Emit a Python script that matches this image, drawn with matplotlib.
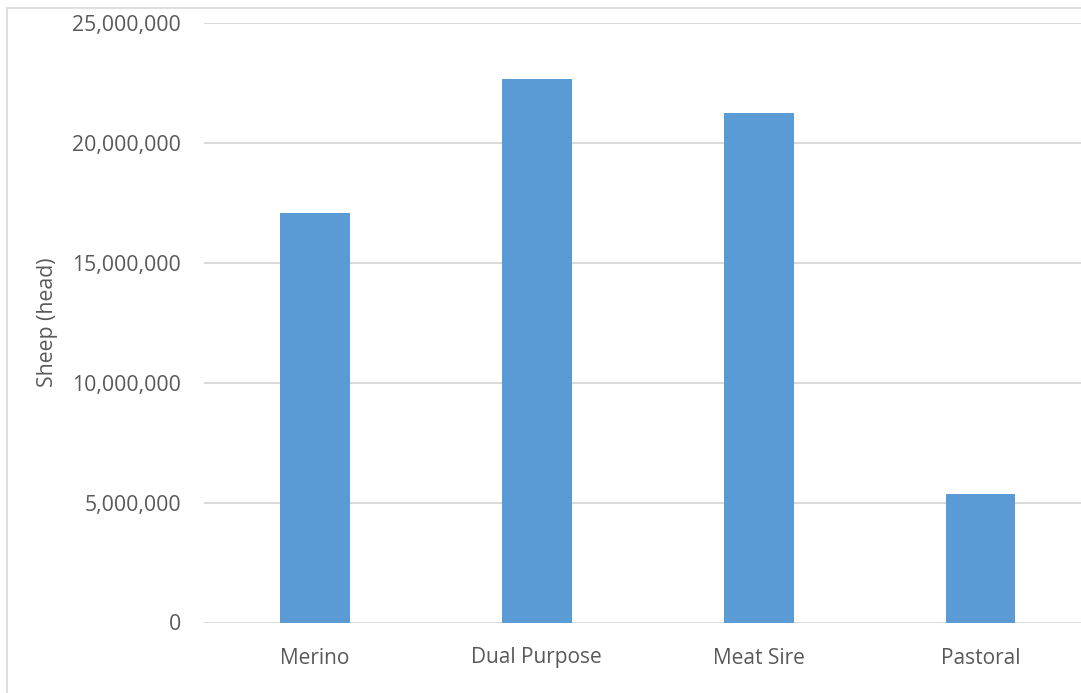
import matplotlib.pyplot as plt
from matplotlib.patches import Rectangle
from matplotlib.ticker import FuncFormatter

# sheep numbers by breed type
breeds = ["Merino", "Dual Purpose", "Meat Sire", "Pastoral"]
sheep = [17080000, 22650000, 21230000, 5350000]
yticks = [0, 5000000, 10000000, 15000000, 20000000, 25000000]

plt.rcParams["font.family"] = ["Open Sans", "DejaVu Sans"]
txt = "#595959"
grid = "#d9d9d9"

W, H = 1081, 693
fig = plt.figure(figsize=(W / 100, H / 100), dpi=100)
# plot area runs off the right edge of the canvas
ax = fig.add_axes([204 / W, 1 - 622.5 / H, (1091.4 - 204) / W, (622.5 - 23) / H])

x = range(len(breeds))
ax.bar(x, sheep, width=0.315, color="#5b9bd5", zorder=3)

ax.set_xlim(-0.5, len(breeds) - 0.5)
ax.set_ylim(0, 25000000)
ax.set_yticks(yticks)
ax.yaxis.set_major_formatter(FuncFormatter(lambda v, p: f"{int(v):,}"))
ax.set_xticks(list(x))
ax.set_xticklabels(breeds)

ax.grid(axis="y", color=grid, linewidth=1.4, zorder=0)
ax.set_axisbelow(True)
for s in ax.spines.values():
    s.set_visible(False)
ax.tick_params(axis="y", length=0, pad=16.5, labelsize=15.3, labelcolor=txt)
ax.tick_params(axis="x", length=0, pad=18, labelsize=15, labelcolor=txt)
ax.set_ylabel("Sheep (head)", fontsize=15.3, color=txt, labelpad=10)

# chart border
fig.patches.append(Rectangle((7 / W, -0.1), 1.2, 1.1 - 8 / H,
                             transform=fig.transFigure, fill=False,
                             edgecolor=grid, linewidth=1.2))

fig.savefig("out.png", dpi=100)
